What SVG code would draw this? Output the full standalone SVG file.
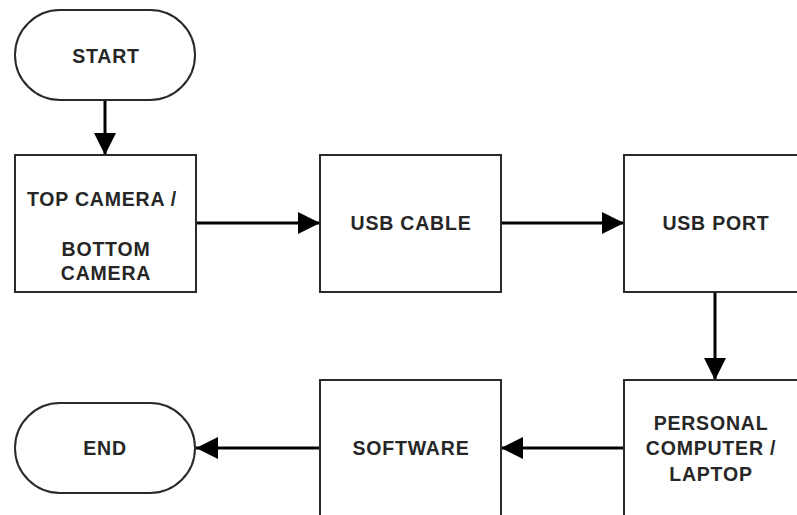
<svg xmlns="http://www.w3.org/2000/svg" width="797" height="515" viewBox="0 0 797 515">
  <style>
    .shape { fill: #ffffff; stroke: #2a2a2a; stroke-width: 2; }
    .label { font-family: "Liberation Sans", Arial, sans-serif; font-size: 19.5px; font-weight: bold; fill: #262626; text-anchor: middle; letter-spacing: 0.8px; }
    .edge { fill: none; stroke: #000000; stroke-width: 3; }
  </style>
  <defs>
    <marker id="arrow" viewBox="0 0 22 22" refX="22" refY="11" markerWidth="22" markerHeight="22" markerUnits="userSpaceOnUse" orient="auto">
      <path d="M0,0 L22,11 L0,22 Z" fill="#000000"/>
    </marker>
  </defs>

  <rect width="797" height="515" fill="#ffffff"/>

  <!-- connectors -->
  <g id="connectors">
    <line class="edge" x1="105" y1="100" x2="105" y2="155" marker-end="url(#arrow)"/>
    <line class="edge" x1="196" y1="223" x2="320" y2="223" marker-end="url(#arrow)"/>
    <line class="edge" x1="501" y1="223" x2="624" y2="223" marker-end="url(#arrow)"/>
    <line class="edge" x1="715" y1="292" x2="715" y2="380" marker-end="url(#arrow)"/>
    <line class="edge" x1="624" y1="448" x2="501" y2="448" marker-end="url(#arrow)"/>
    <line class="edge" x1="320" y1="448" x2="196" y2="448" marker-end="url(#arrow)"/>
  </g>

  <!-- nodes -->
  <g id="start">
    <rect class="shape" x="15" y="10" width="180" height="90" rx="45" ry="45"/>
    <text class="label" x="106" y="63">START</text>
  </g>

  <g id="camera">
    <rect class="shape" x="15" y="155" width="181" height="137"/>
    <text class="label" x="102" y="206">TOP CAMERA /</text>
    <text class="label" x="106" y="256">BOTTOM</text>
    <text class="label" x="106" y="280">CAMERA</text>
  </g>

  <g id="usb-cable">
    <rect class="shape" x="320" y="155" width="181" height="137"/>
    <text class="label" x="411" y="230">USB CABLE</text>
  </g>

  <g id="usb-port">
    <rect class="shape" x="624" y="155" width="181" height="137"/>
    <text class="label" x="716" y="230">USB PORT</text>
  </g>

  <g id="computer">
    <rect class="shape" x="624" y="380" width="181" height="137"/>
    <text class="label" x="711" y="430">PERSONAL</text>
    <text class="label" x="711" y="455">COMPUTER /</text>
    <text class="label" x="711" y="481">LAPTOP</text>
  </g>

  <g id="software">
    <rect class="shape" x="320" y="380" width="181" height="137"/>
    <text class="label" x="411" y="455">SOFTWARE</text>
  </g>

  <g id="end">
    <rect class="shape" x="15" y="403" width="180" height="90" rx="45" ry="45"/>
    <text class="label" x="105" y="455">END</text>
  </g>
</svg>
